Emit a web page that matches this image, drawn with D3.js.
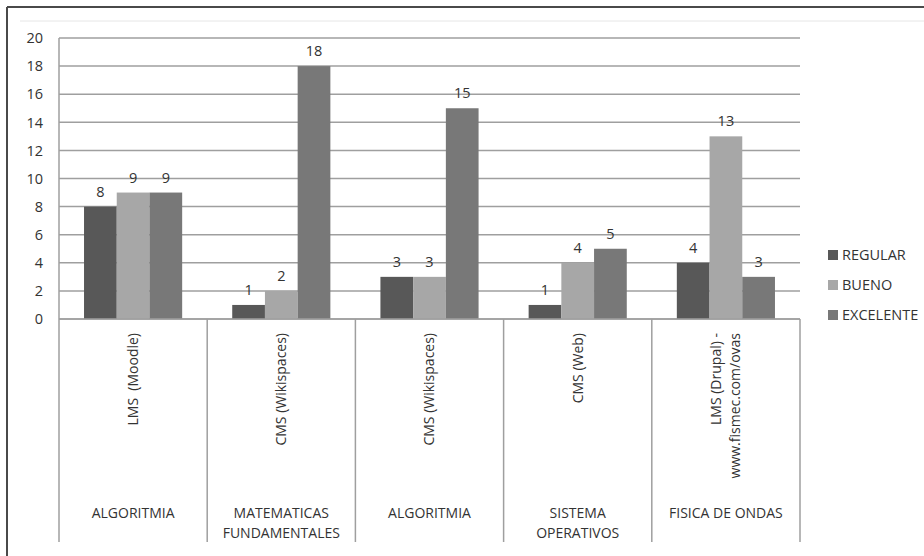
<!DOCTYPE html>
<html>
<head>
<meta charset="utf-8">
<script src="https://cdn.jsdelivr.net/npm/d3@7/dist/d3.min.js"></script>
<style>
  html, body { margin: 0; padding: 0; background: #fff; }
  svg { display: block; font-family: "Open Sans", "Noto Sans", sans-serif; }
  text { white-space: pre; }
  .tick-lbl { font-size: 14.5px; fill: #333; }
  .val { font-size: 14.5px; fill: #333; }
  .cat { font-size: 14px; fill: #333; }
  .leg { font-size: 14.5px; fill: #333; }
</style>
</head>
<body>
<div id="chart"></div>
<script>
// two-level categories (platform over course)
var platforms = ["LMS  (Moodle)", "CMS (Wikispaces)", "CMS (Wikispaces)", "CMS (Web)", ["LMS (Drupal) -", "www.fismec.com/ovas"]];
var courses = [["ALGORITMIA"], ["MATEMATICAS", "FUNDAMENTALES"], ["ALGORITMIA"], ["SISTEMA", "OPERATIVOS"], ["FISICA DE ONDAS"]];
var seriesNames = ["REGULAR", "BUENO", "EXCELENTE"];
var regular = [8, 1, 3, 1, 4];
var bueno = [9, 2, 3, 4, 13];
var excelente = [9, 18, 15, 5, 3];
var yTicks = [0, 2, 4, 6, 8, 10, 12, 14, 16, 18, 20];
var colors = ["#585858", "#a7a7a7", "#787878"];

var W = 924, H = 556;
var plot = { left: 59, right: 800, top: 38, bottom: 319, axisBottom: 542 };

var svg = d3.select("#chart").append("svg").attr("width", W).attr("height", H);

// outer frame
svg.append("rect").attr("width", W).attr("height", H).attr("fill", "#fff");
svg.append("line").attr("x1", 7).attr("y1", 7).attr("x2", W).attr("y2", 7).attr("stroke", "#4a4a4a").attr("stroke-width", 2);
svg.append("line").attr("x1", 7).attr("y1", 7).attr("x2", 7).attr("y2", H).attr("stroke", "#4a4a4a").attr("stroke-width", 2);
svg.append("line").attr("x1", 20).attr("y1", 21).attr("x2", W).attr("y2", 21).attr("stroke", "#e6e6e6").attr("stroke-width", 1);

var idx = d3.range(platforms.length);
var x = d3.scaleBand().domain(idx).range([plot.left, plot.right]).padding(0);
var xs = d3.scaleBand().domain(seriesNames).range([0, x.bandwidth()]).paddingInner(0).paddingOuter(0.765);
var y = d3.scaleLinear().domain([0, 20]).range([plot.bottom, plot.top]);

// gridlines
svg.append("g").selectAll("line").data(yTicks).join("line")
  .attr("x1", plot.left).attr("x2", plot.right)
  .attr("y1", function (d) { return y(d); }).attr("y2", function (d) { return y(d); })
  .attr("stroke", "#9f9f9f").attr("stroke-width", 1.5);

// left axis line
svg.append("line").attr("x1", plot.left).attr("x2", plot.left).attr("y1", plot.top).attr("y2", plot.bottom)
  .attr("stroke", "#9f9f9f").attr("stroke-width", 1.5);

// y tick labels
svg.append("g").selectAll("text").data(yTicks).join("text")
  .attr("class", "tick-lbl").attr("x", 43).attr("y", function (d) { return y(d); }).attr("dy", "0.36em")
  .attr("text-anchor", "end").text(function (d) { return d; });

// category dividers below the axis
svg.append("g").selectAll("line").data(d3.range(platforms.length + 1)).join("line")
  .attr("x1", function (i) { return plot.left + i * x.bandwidth(); })
  .attr("x2", function (i) { return plot.left + i * x.bandwidth(); })
  .attr("y1", plot.bottom).attr("y2", plot.axisBottom)
  .attr("stroke", "#9f9f9f").attr("stroke-width", 1.5);

// bars
var data = [regular, bueno, excelente];
var groups = svg.append("g").selectAll("g").data(seriesNames).join("g").attr("fill", function (d, i) { return colors[i]; });
groups.each(function (name, si) {
  var g = d3.select(this);
  g.selectAll("rect").data(data[si]).join("rect")
    .attr("x", function (v, i) { return x(i) + xs(name); })
    .attr("width", xs.bandwidth())
    .attr("y", function (v) { return y(v); })
    .attr("height", function (v) { return y(0) - y(v); });
  svg.append("g").selectAll("text").data(data[si]).join("text")
    .attr("class", "val").attr("text-anchor", "middle")
    .attr("x", function (v, i) { return x(i) + xs(name) + xs.bandwidth() / 2; })
    .attr("y", function (v) { return y(v) - 10; })
    .text(function (v) { return v; });
});

// x axis line
svg.append("line").attr("x1", plot.left).attr("x2", plot.right).attr("y1", plot.bottom).attr("y2", plot.bottom)
  .attr("stroke", "#9f9f9f").attr("stroke-width", 1.5);

// rotated platform labels
platforms.forEach(function (p, i) {
  var lines = Array.isArray(p) ? p : [p];
  var cx = x(i) + x.bandwidth() / 2;
  var t = svg.append("text").attr("class", "cat").attr("text-anchor", "end")
    .attr("transform", "translate(" + cx + "," + 333 + ") rotate(-90)");
  lines.forEach(function (l, k) {
    t.append("tspan").attr("x", 0).attr("y", (k - (lines.length - 1) / 2) * 19).attr("dy", "0.35em").text(l);
  });
});

// course labels
courses.forEach(function (c, i) {
  var cx = x(i) + x.bandwidth() / 2;
  c.forEach(function (l, k) {
    svg.append("text").attr("class", "cat").attr("text-anchor", "middle")
      .attr("x", cx).attr("y", 513 + k * 20).attr("dy", "0.35em").text(l);
  });
});

// legend
var leg = svg.append("g").selectAll("g").data(seriesNames).join("g")
  .attr("transform", function (d, i) { return "translate(828," + (255 + i * 30) + ")"; });
leg.append("rect").attr("x", 0).attr("y", -5).attr("width", 10).attr("height", 10)
  .attr("fill", function (d, i) { return colors[i]; });
leg.append("text").attr("class", "leg").attr("x", 14).attr("dy", "0.36em").text(function (d) { return d; });
</script>
</body>
</html>
